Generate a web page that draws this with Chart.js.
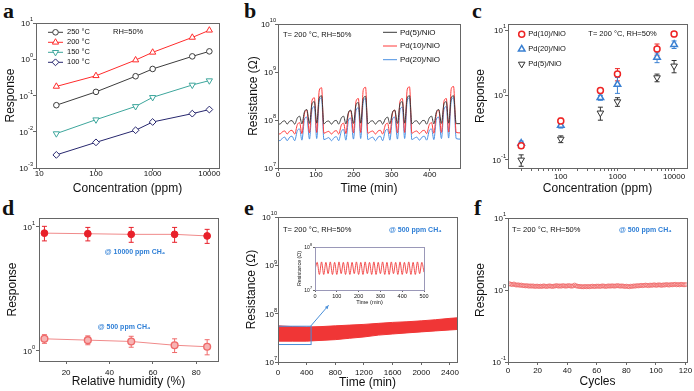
<!DOCTYPE html>
<html>
<head>
<meta charset="utf-8">
<script src="https://cdn.jsdelivr.net/npm/chart.js@4.4.0/dist/chart.umd.min.js"></script>
<style>
 body { margin: 0; background: #fff; width: 694px; height: 391px; overflow: hidden; position: relative; }
 canvas { position: absolute; }
 .lt { position: absolute; font: bold 22px "Liberation Serif", "Times New Roman", serif; line-height: 22px; color: #111; }
</style>
</head>
<body>
 <div class="lt" style="left:3px;top:0px">a</div>
 <div class="lt" style="left:244px;top:0px">b</div>
 <div class="lt" style="left:472px;top:0px">c</div>
 <div class="lt" style="left:2px;top:197px">d</div>
 <div class="lt" style="left:244px;top:197px">e</div>
 <div class="lt" style="left:474px;top:197px">f</div>

 <canvas id="ca" width="230" height="196" style="left:0;top:0"></canvas>
 <canvas id="cb" width="232" height="196" style="left:230px;top:0"></canvas>
 <canvas id="cc" width="232" height="196" style="left:462px;top:0"></canvas>
 <canvas id="cd" width="230" height="195" style="left:0;top:196px"></canvas>
 <canvas id="ce" width="232" height="195" style="left:230px;top:196px"></canvas>
 <canvas id="cei" width="140" height="70" style="left:290px;top:236px"></canvas>
 <canvas id="cf" width="232" height="195" style="left:462px;top:196px"></canvas>

<script>
const FONT = '"Liberation Sans", Arial, sans-serif';
Chart.defaults.font.family = FONT;
Chart.defaults.color = '#111';

// ---- a: response vs concentration at four temperatures
const aConc = [20, 100, 500, 1000, 5000, 10000];
const a250 = [0.054, 0.126, 0.34, 0.54, 1.2, 1.65];
const a200 = [0.178, 0.35, 0.95, 1.55, 4.0, 6.3];
const a150 = [0.0089, 0.0215, 0.050, 0.089, 0.195, 0.257];
const a100 = [0.0023, 0.0051, 0.011, 0.0186, 0.0316, 0.041];
const aXTicks = [10, 100, 1000, 10000];
const aXLabels = ['10', '100', '1000', '10000'];
const aYTicks = [1e-3, 1e-2, 1e-1, 1, 10];
const aYExp = ['-3', '-2', '-1', '0', '1'];

// ---- b: resistance transients (values in 1e7 ohm)
const bTime = [0,
  5, 12, 18, 24, 31, 37, 44, 51, 57, 63, 70, 76, 83, 90, 96, 102, 109, 115,
  121, 128, 134, 141, 148, 154, 160, 167, 173, 179, 186, 192, 199, 206, 212, 218, 225, 231,
  237, 244, 250, 257, 264, 270, 276, 283, 289, 295, 302, 308, 315, 322, 328, 334, 341, 347,
  353, 360, 366, 373, 380, 386, 392, 399, 405, 411, 418, 424, 431, 438, 444, 450, 457, 463,
  470, 480];
const bPd5 = [8.4,
  8.2, 9.3, 9.6, 8.2, 9.5, 9.7, 8.2, 11, 12, 8.3, 15, 16.5, 8.5, 22, 24, 8.6, 29, 32,
  8.3, 9.3, 9.5, 8.2, 9.5, 9.8, 8.2, 11, 12, 8.3, 14.5, 16, 8.5, 21, 23, 8.6, 28, 31,
  8.3, 9.4, 9.6, 8.2, 9.5, 9.7, 8.2, 10.5, 11.5, 8.3, 14.5, 16, 8.5, 22, 24, 8.6, 29, 32,
  8.3, 9.4, 9.6, 8.2, 9.6, 9.8, 8.2, 11, 12, 8.3, 15, 16.5, 8.5, 22, 24, 8.6, 29, 32,
  8.4, 8.4];
const bPd10 = [5.3,
  5.1, 5.7, 5.9, 5.1, 5.9, 6.1, 5.1, 8.0, 8.8, 5.2, 14, 16, 5.4, 26, 29, 5.5, 42, 47,
  5.3, 5.6, 5.8, 5.1, 5.8, 6.0, 5.1, 7.8, 8.6, 5.2, 14, 15.5, 5.4, 25, 28, 5.5, 43, 48,
  5.3, 5.7, 5.9, 5.1, 5.9, 6.1, 5.1, 7.8, 8.6, 5.2, 14, 16, 5.4, 25, 28, 5.5, 44, 49,
  5.3, 5.7, 5.9, 5.2, 5.9, 6.1, 5.2, 8.0, 8.8, 5.3, 14, 16, 5.5, 25, 28, 5.6, 45, 50,
  5.5, 5.4];
const bPd20 = [3.9,
  3.7, 4.2, 4.4, 3.7, 4.4, 4.6, 3.7, 6.0, 6.5, 3.8, 10.5, 11.5, 4.0, 17, 19, 4.1, 26, 29,
  3.9, 4.1, 4.3, 3.7, 4.3, 4.5, 3.7, 5.8, 6.3, 3.8, 10, 11, 4.0, 16, 18, 4.1, 25, 28,
  3.9, 4.2, 4.4, 3.7, 4.4, 4.6, 3.7, 5.9, 6.4, 3.8, 10.5, 11.5, 4.0, 16.5, 18.5, 4.1, 26, 29,
  3.9, 4.2, 4.4, 3.8, 4.4, 4.6, 3.8, 6.0, 6.5, 3.9, 10.5, 11.5, 4.1, 17, 19, 4.2, 26, 29,
  4.1, 4.0];
const bXTicks = [0, 100, 200, 300, 400];
const bXLabels = ['0', '100', '200', '300', '400'];
const rTicks = [1e7, 1e8, 1e9, 1e10];
const rExp = ['7', '8', '9', '10'];

// ---- c: response of three loadings, with error bars
const cConc = [20, 100, 500, 1000, 5000, 10000];
const cPd10 = [0.166, 0.40, 1.17, 2.1, 5.1, 8.7];
const cPd10Err = [0.015, 0.04, 0.1, 0.45, 1.0, 0.8];
const cPd20 = [0.18, 0.34, 0.91, 1.46, 3.8, 6.0];
const cPd20Err = [0.015, 0.03, 0.08, 0.4, 0.65, 0.8];
const cPd5 = [0.10, 0.21, 0.53, 0.79, 1.85, 2.8];
const cPd5Err = [0.02, 0.025, 0.12, 0.12, 0.25, 0.6];
const cXTicks = [100, 1000, 10000];
const cXLabels = ['100', '1000', '10000'];
const cXMinor = [20, 30, 40, 50, 60, 70, 80, 90, 200, 300, 400, 500, 600, 700, 800, 900,
  2000, 3000, 4000, 5000, 6000, 7000, 8000, 9000];
const cYTicks = [0.1, 1, 10];
const cYExp = ['-1', '0', '1'];

// ---- d: response vs relative humidity
const dRH = [10, 30, 50, 70, 85];
const dHigh = [8.9, 8.8, 8.7, 8.7, 8.45];
const dHighErr = [1.2, 1.1, 1.2, 1.2, 1.1];
const dLow = [1.24, 1.21, 1.18, 1.10, 1.07];
const dLowErr = [0.1, 0.1, 0.12, 0.14, 0.15];
const dXTicks = [20, 40, 60, 80];
const dXLabels = ['20', '40', '60', '80'];
const dYTicks = [1, 10];
const dYExp = ['0', '1'];

// ---- e: long-term resistance band (1e7 ohm) and inset
const eTime = [0, 200, 400, 600, 800, 1000, 1200, 1400, 1600, 1800, 2000, 2200, 2400, 2500];
const eUpper = [5.6, 5.4, 5.3, 5.4, 5.6, 5.8, 6.0, 6.3, 6.6, 6.8, 7.1, 7.5, 8.0, 8.2];
const eLower = [2.7, 2.7, 2.7, 2.8, 2.9, 3.1, 3.3, 3.6, 3.8, 4.0, 4.2, 4.4, 4.6, 4.7];
const eXTicks = [0, 400, 800, 1200, 1600, 2000, 2400];
const eXLabels = ['0', '400', '800', '1200', '1600', '2000', '2400'];
const eInsetTime = [0, 10, 20, 30, 40, 50, 60, 70, 80, 90, 100, 110, 120, 130, 140, 150, 160, 170, 180, 190,
  200, 210, 220, 230, 240, 250, 260, 270, 280, 290, 300, 310, 320, 330, 340, 350, 360, 370, 380, 390,
  400, 410, 420, 430, 440, 450, 460, 470, 480, 490, 500];
const eInsetR = [3.0, 4.4, 2.3, 4.5, 2.3, 4.4, 2.4, 4.5, 2.3, 4.4,
  2.3, 4.5, 2.4, 4.4, 2.3, 4.5, 2.3, 4.4, 2.4, 4.5,
  2.3, 4.4, 2.3, 4.5, 2.4, 4.4, 2.3, 4.5, 2.3, 4.4,
  2.4, 4.5, 2.3, 4.4, 2.3, 4.5, 2.4, 4.4, 2.3, 4.5,
  2.3, 4.4, 2.4, 4.5, 2.3, 4.4, 2.3, 4.5, 2.4, 4.4, 2.6];
const eInsetXTicks = [0, 100, 200, 300, 400, 500];
const eInsetXLabels = ['0', '100', '200', '300', '400', '500'];
const eInsetYTicks = [1e7, 1e8];
const eInsetYExp = ['7', '8'];

// ---- f: response over 120 cycles
const fResp = [1.22, 1.20, 1.19, 1.21, 1.18, 1.17, 1.18, 1.16, 1.17, 1.15,
  1.15, 1.14, 1.15, 1.13, 1.14, 1.13, 1.14, 1.12, 1.13, 1.13,
  1.12, 1.13, 1.12, 1.14, 1.13, 1.12, 1.13, 1.14, 1.13, 1.12,
  1.13, 1.14, 1.15, 1.13, 1.14, 1.13, 1.15, 1.14, 1.13, 1.14,
  1.15, 1.14, 1.13, 1.14, 1.17, 1.14, 1.13, 1.12, 1.12, 1.11,
  1.11, 1.12, 1.11, 1.12, 1.11, 1.12, 1.13, 1.12, 1.12, 1.13,
  1.13, 1.12, 1.13, 1.14, 1.13, 1.12, 1.13, 1.14, 1.13, 1.14,
  1.14, 1.13, 1.14, 1.15, 1.14, 1.13, 1.14, 1.13, 1.12, 1.13,
  1.12, 1.11, 1.13, 1.12, 1.14, 1.13, 1.15, 1.14, 1.15, 1.16,
  1.15, 1.16, 1.17, 1.16, 1.15, 1.17, 1.16, 1.17, 1.18, 1.16,
  1.17, 1.18, 1.17, 1.16, 1.18, 1.17, 1.19, 1.18, 1.17, 1.19,
  1.18, 1.19, 1.20, 1.18, 1.19, 1.18, 1.20, 1.19, 1.18, 1.19];
const fCycles = fResp.map((v, i) => i + 1);
const fXTicks = [0, 20, 40, 60, 80, 100, 120];
const fXLabels = ['0', '20', '40', '60', '80', '100', '120'];

// ---------- helpers
function pts(xs, ys, k) {
  return xs.map((x, i) => ({ x: x, y: ys[i] * (k || 1) }));
}

function axis(o) {
  const all = o.ticks.concat(o.minor || []);
  return {
    type: o.type, min: o.min, max: o.max,
    afterBuildTicks: s => { s.ticks = all.map(v => ({ value: v })); },
    ticks: { callback: (v, i) => (o.labels && o.labels[i]) || '', font: { size: o.fs || 8 }, color: '#111',
             padding: o.pad, autoSkip: false, maxRotation: 0, minRotation: 0 },
    grid: { drawOnChartArea: false, tickLength: o.tl || 3, color: '#666', tickColor: '#666' },
    border: { display: false },
    title: { display: true, text: o.title, font: { size: o.tfs || 12 }, color: '#111', padding: o.tpad }
  };
}

// W,H canvas size, area = [left, right, top, bottom] of the plot box
function options(W, H, area, xAx, yAx) {
  xAx.afterFit = s => { s.height = H - area[3]; };
  yAx.afterFit = s => { s.width = area[0]; };
  return {
    responsive: false, animation: false, events: [],
    layout: { autoPadding: false, padding: { left: 0, right: W - area[1], top: area[2], bottom: 0 } },
    plugins: { legend: { display: false }, tooltip: { enabled: false } },
    scales: { x: xAx, y: yAx }
  };
}

function ds(label, data, color, style, r, extra) {
  return Object.assign({
    label: label, data: data, borderColor: color, backgroundColor: color, borderWidth: 1,
    pointStyle: style, pointRadius: r, pointRotation: 0, pointBorderColor: color,
    pointBackgroundColor: '#fff', pointBorderWidth: 1, tension: 0, showLine: true
  }, extra || {});
}

function drawMarker(x, style, cx, cy, r, rot) {
  x.beginPath();
  if (style === 'circle') {
    x.arc(cx, cy, r, 0, Math.PI * 2);
  } else if (style === 'triangle') {
    const a = (rot || 0) * Math.PI / 180;
    for (let k = 0; k < 3; k++) {
      const t = a + k * 2 * Math.PI / 3;
      const px = cx + Math.sin(t) * r, py = cy - Math.cos(t) * r;
      if (k) x.lineTo(px, py); else x.moveTo(px, py);
    }
    x.closePath();
  } else if (style === 'rectRot') {
    x.moveTo(cx, cy - r); x.lineTo(cx + r, cy); x.lineTo(cx, cy + r); x.lineTo(cx - r, cy);
    x.closePath();
  }
  x.fill();
  x.stroke();
}

const frame = {
  id: 'frame',
  afterDraw(c) {
    const a = c.chartArea, x = c.ctx;
    x.save();
    x.strokeStyle = c.options.frameColor || '#666';
    x.lineWidth = 1;
    x.strokeRect(Math.round(a.left) + 0.5, Math.round(a.top) + 0.5,
                 Math.round(a.right - a.left), Math.round(a.bottom - a.top));
    x.restore();
  }
};

// "10" with a raised exponent for the log y axes
function expTicks(o) {
  return {
    id: 'expticks',
    afterDraw(c) {
      const x = c.ctx, s = c.scales.y;
      const xr = s.right - (o.tl || 3) - o.pad;
      const fs = o.fs || 8, efs = o.efs || 5.6;
      x.save();
      x.fillStyle = '#111';
      x.textBaseline = 'middle';
      o.ticks.forEach((v, i) => {
        const y = s.getPixelForValue(v);
        x.font = efs + 'px ' + FONT;
        const we = x.measureText(o.exps[i]).width;
        x.textAlign = 'left';
        x.fillText(o.exps[i], xr - we, y - fs * 0.42);
        x.font = fs + 'px ' + FONT;
        x.textAlign = 'right';
        x.fillText('10', xr - we, y + fs * 0.12);
      });
      x.restore();
    }
  };
}

const errBars = {
  id: 'errbars',
  beforeDatasetsDraw(c) {
    const x = c.ctx, ys = c.scales.y;
    c.data.datasets.forEach((d, i) => {
      if (!d.err) return;
      const meta = c.getDatasetMeta(i);
      x.save();
      x.strokeStyle = d.pointBorderColor;
      x.lineWidth = 1;
      meta.data.forEach((p, j) => {
        const v = d.data[j].y, e = d.err[j];
        const t = ys.getPixelForValue(v + e), b = ys.getPixelForValue(v - e);
        x.beginPath();
        x.moveTo(p.x, t); x.lineTo(p.x, b);
        x.moveTo(p.x - 2.5, t); x.lineTo(p.x + 2.5, t);
        x.moveTo(p.x - 2.5, b); x.lineTo(p.x + 2.5, b);
        x.stroke();
      });
      x.restore();
    });
  }
};

function notes(items) {
  return {
    id: 'notes',
    afterDraw(c) {
      const x = c.ctx;
      x.save();
      x.textBaseline = 'middle';
      items.forEach(n => {
        x.font = n.font || ('7.5px ' + FONT);
        x.fillStyle = n.color || '#111';
        x.textAlign = n.align || 'left';
        x.fillText(n.text, n.x, n.y);
      });
      x.restore();
    }
  };
}

function inLegend(o) {
  return {
    id: 'inlegend',
    afterDraw(c) {
      const x = c.ctx;
      x.save();
      x.textBaseline = 'middle';
      c.data.datasets.forEach((d, i) => {
        const y = o.y + i * o.dy;
        if (o.line) {
          x.strokeStyle = d.borderColor; x.lineWidth = 1;
          x.beginPath(); x.moveTo(o.x, y); x.lineTo(o.x + o.line, y); x.stroke();
        }
        if (o.marker) {
          x.strokeStyle = d.pointBorderColor; x.fillStyle = d.pointBackgroundColor;
          x.lineWidth = d.pointBorderWidth;
          drawMarker(x, d.pointStyle, o.x + (o.line || 0) / 2, y, d.pointRadius, d.pointRotation);
        }
        x.font = (o.fs || 7.5) + 'px ' + FONT;
        x.fillStyle = '#111';
        x.textAlign = o.align || 'left';
        x.fillText(d.label, o.tx, y);
      });
      x.restore();
    }
  };
}

// zoomed region rectangle and arrow in e, given in data coordinates
function zoomBox(o) {
  return {
    id: 'zoombox',
    afterDatasetsDraw(c) {
      const x = c.ctx, sx = c.scales.x, sy = c.scales.y;
      const l = sx.getPixelForValue(o.x0), r = sx.getPixelForValue(o.x1);
      const t = sy.getPixelForValue(o.y1), b = sy.getPixelForValue(o.y0);
      const ax = sx.getPixelForValue(o.ax), ay = sy.getPixelForValue(o.ay);
      x.save();
      x.strokeStyle = o.color; x.fillStyle = o.color; x.lineWidth = 1;
      x.strokeRect(l + 0.5, t, r - l, b - t);
      x.beginPath(); x.moveTo(r, t); x.lineTo(ax, ay); x.stroke();
      const ang = Math.atan2(ay - t, ax - r);
      x.beginPath();
      x.moveTo(ax, ay);
      x.lineTo(ax - 4 * Math.cos(ang - 0.45), ay - 4 * Math.sin(ang - 0.45));
      x.lineTo(ax - 4 * Math.cos(ang + 0.45), ay - 4 * Math.sin(ang + 0.45));
      x.closePath(); x.fill();
      x.restore();
    }
  };
}

const BLUE = '#2f7fd6';
const CH4 = 'bold 7px ' + FONT;

// ---------- a
new Chart(document.getElementById('ca'), {
  type: 'line',
  data: { datasets: [
    ds('250 °C', pts(aConc, a250), '#3c3c3c', 'circle', 2.8),
    ds('200 °C', pts(aConc, a200), '#ff2b2b', 'triangle', 3.6),
    ds('150 °C', pts(aConc, a150), '#3da69c', 'triangle', 3.6, { pointRotation: 180 }),
    ds('100 °C', pts(aConc, a100), '#27276e', 'rectRot', 3.4)
  ] },
  options: options(230, 196, [36, 219, 23, 168],
    axis({ type: 'logarithmic', min: 8.75, max: 14800, ticks: aXTicks, labels: aXLabels,
           title: 'Concentration (ppm)', pad: -2, tpad: { top: 0, bottom: 0.5 } }),
    axis({ type: 'logarithmic', min: 1e-3, max: 10, ticks: aYTicks,
           title: 'Response', pad: 0, tpad: { top: 3, bottom: 0 } })),
  plugins: [frame, expTicks({ ticks: aYTicks, exps: aYExp, pad: 0 }),
            inLegend({ x: 48, y: 32.3, dy: 10, line: 15, marker: true, tx: 67, fs: 7.5 }),
            notes([{ text: 'RH=50%', x: 113, y: 32.3 }])]
});

// ---------- b
const bLine = { pointRadius: 0, cubicInterpolationMode: 'monotone', borderWidth: 1 };
new Chart(document.getElementById('cb'), {
  type: 'line',
  data: { datasets: [
    ds('Pd(5)/NiO', pts(bTime, bPd5, 1e7), '#3a3a3a', 'circle', 0, bLine),
    ds('Pd(10)/NiO', pts(bTime, bPd10, 1e7), '#ff3a3a', 'circle', 0, bLine),
    ds('Pd(20)/NiO', pts(bTime, bPd20, 1e7), '#4a90e2', 'circle', 0, bLine)
  ] },
  options: options(232, 196, [48, 230, 24, 168],
    axis({ type: 'linear', min: 0, max: 480, ticks: bXTicks, labels: bXLabels,
           title: 'Time (min)', pad: -1.5, tpad: { top: 0, bottom: 0.5 } }),
    axis({ type: 'logarithmic', min: 1e7, max: 1e10, ticks: rTicks,
           title: 'Resistance (Ω)', pad: -1, tpad: { top: 16, bottom: 0 } })),
  plugins: [frame, expTicks({ ticks: rTicks, exps: rExp, pad: -1 }),
            inLegend({ x: 153, y: 32.3, dy: 13.7, line: 14, marker: false, tx: 170, fs: 8 }),
            notes([{ text: 'T= 200 °C, RH=50%', x: 53, y: 35 }])]
});

// ---------- c
const cPt = { showLine: false, pointBorderWidth: 1.5 };
new Chart(document.getElementById('cc'), {
  type: 'line',
  data: { datasets: [
    ds('Pd(10)/NiO', pts(cConc, cPd10), '#ee2424', 'circle', 3, Object.assign({ err: cPd10Err }, cPt)),
    ds('Pd(20)/NiO', pts(cConc, cPd20), '#3a80d2', 'triangle', 3.8, Object.assign({ err: cPd20Err }, cPt)),
    ds('Pd(5)/NiO', pts(cConc, cPd5), '#333333', 'triangle', 3.8,
       Object.assign({ err: cPd5Err }, cPt, { pointRotation: 180, pointBorderWidth: 1 }))
  ] },
  options: options(232, 196, [46, 225, 24, 168],
    axis({ type: 'logarithmic', min: 11.7, max: 16900, ticks: cXTicks, minor: cXMinor, labels: cXLabels,
           title: 'Concentration (ppm)', pad: 1, tpad: { top: 0, bottom: 0.5 } }),
    axis({ type: 'logarithmic', min: 0.0753, max: 12.4, ticks: cYTicks,
           title: 'Response', pad: -1, tpad: { top: 11.5, bottom: 0 } })),
  plugins: [frame, errBars, expTicks({ ticks: cYTicks, exps: cYExp, pad: -1 }),
            inLegend({ x: 59.7, y: 34.3, dy: 14.9, line: 0, marker: true, tx: 66.3, fs: 7.5 }),
            notes([{ text: 'T= 200 °C, RH=50%', x: 126.3, y: 34.3 }])]
});

// ---------- d
new Chart(document.getElementById('cd'), {
  type: 'line',
  data: { datasets: [
    ds('10000 ppm', pts(dRH, dHigh), '#f08a8a', 'circle', 3.4,
       { err: dHighErr, pointBorderColor: '#e8202a', pointBackgroundColor: '#e8202a', pointBorderWidth: 1 }),
    ds('500 ppm', pts(dRH, dLow), '#f08a8a', 'circle', 3.4,
       { err: dLowErr, pointBorderColor: '#ef6a6a', pointBackgroundColor: '#f7b4b4', pointBorderWidth: 1.4 })
  ] },
  options: options(230, 195, [39, 218, 22, 165],
    axis({ type: 'linear', min: 7.5, max: 90, ticks: dXTicks, labels: dXLabels,
           title: 'Relative humidity (%)', pad: 3.5, tpad: { top: 0, bottom: 2 } }),
    axis({ type: 'logarithmic', min: 0.82, max: 11.8, ticks: dYTicks,
           title: 'Response', pad: 1, tpad: { top: 5.5, bottom: 0 } })),
  plugins: [frame, errBars, expTicks({ ticks: dYTicks, exps: dYExp, pad: 1 }),
            notes([{ text: '@ 10000 ppm CH₄', x: 135, y: 56, color: BLUE, font: CH4, align: 'center' },
                   { text: '@ 500 ppm CH₄', x: 124, y: 131, color: BLUE, font: CH4, align: 'center' }])]
});

// ---------- e
new Chart(document.getElementById('ce'), {
  type: 'line',
  data: { datasets: [
    ds('upper', pts(eTime, eUpper, 1e7), '#f03636', 'circle', 0, { fill: '+1', backgroundColor: '#f03636' }),
    ds('lower', pts(eTime, eLower, 1e7), '#f03636', 'circle', 0, { fill: false })
  ] },
  options: options(232, 195, [48, 228, 21, 166],
    axis({ type: 'linear', min: 0, max: 2500, ticks: eXTicks, labels: eXLabels,
           title: 'Time (min)', pad: 3, tpad: { top: 0, bottom: 1.5 } }),
    axis({ type: 'logarithmic', min: 1e7, max: 1e10, ticks: rTicks,
           title: 'Resistance (Ω)', pad: -2, tpad: { top: 14.5, bottom: 0 } })),
  plugins: [frame, expTicks({ ticks: rTicks, exps: rExp, pad: -2 }),
            zoomBox({ x0: 0, x1: 455, y0: 2.3e7, y1: 5.5e7, ax: 706, ay: 1.49e8, color: '#4a8fd8' }),
            notes([{ text: 'T= 200 °C, RH=50%', x: 53, y: 34 },
                   { text: '@ 500 ppm CH₄', x: 159, y: 34, color: BLUE, font: CH4 }])]
});

// inset of e
const insetOpts = options(140, 70, [25, 135, 11, 54],
  axis({ type: 'linear', min: 0, max: 500, ticks: eInsetXTicks, labels: eInsetXLabels, fs: 5.5, tl: 2,
         title: 'Time (min)', tfs: 5.6, pad: 1.4, tpad: { top: 0, bottom: 0 } }),
  axis({ type: 'logarithmic', min: 1e7, max: 1e8, ticks: eInsetYTicks, fs: 5.5, tl: 2,
         title: 'Resistance (Ω)', tfs: 5.3, pad: 1, tpad: { top: 6.6, bottom: 0 } }));
insetOpts.frameColor = '#9a98b8';
new Chart(document.getElementById('cei'), {
  type: 'line',
  data: { datasets: [
    ds('inset', pts(eInsetTime, eInsetR, 1e7), '#f03a3a', 'circle', 0,
       { borderWidth: 0.9, cubicInterpolationMode: 'monotone' })
  ] },
  options: insetOpts,
  plugins: [frame, expTicks({ ticks: eInsetYTicks, exps: eInsetYExp, pad: 1, tl: 2, fs: 5, efs: 3.8 })]
});

// ---------- f
new Chart(document.getElementById('cf'), {
  type: 'line',
  data: { datasets: [
    ds('cycles', pts(fCycles, fResp), '#f06a6a', 'circle', 2,
       { showLine: false, pointBorderWidth: 0.8, pointBackgroundColor: 'rgba(255,255,255,0)' })
  ] },
  options: options(232, 195, [46, 225, 22, 166],
    axis({ type: 'linear', min: 0, max: 121, ticks: fXTicks, labels: fXLabels,
           title: 'Cycles', pad: 1, tpad: { top: 0, bottom: 2 } }),
    axis({ type: 'logarithmic', min: 0.1, max: 10, ticks: cYTicks,
           title: 'Response', pad: -1, tpad: { top: 11.5, bottom: 0 } })),
  plugins: [frame, expTicks({ ticks: cYTicks, exps: cYExp, pad: -1 }),
            notes([{ text: 'T= 200 °C, RH=50%', x: 50, y: 34 },
                   { text: '@ 500 ppm CH₄', x: 157, y: 34, color: BLUE, font: CH4 }])]
});
</script>
</body>
</html>
